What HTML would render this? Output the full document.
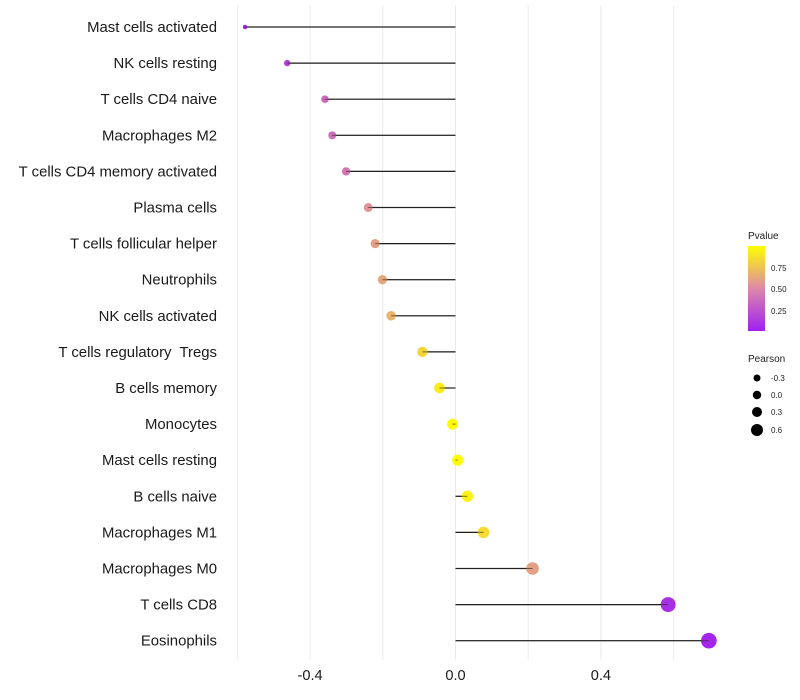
<!DOCTYPE html>
<html><head><meta charset="utf-8"><style>
body{margin:0;background:#fff;}
svg{display:block;font-family:"Liberation Sans",Arial,sans-serif;}
text{white-space:pre;}
</style></head><body>
<svg id="chart" width="800" height="700">
<defs><linearGradient id="pg" x1="0" y1="1" x2="0" y2="0">
<stop offset="0" stop-color="#a020f0"/><stop offset="0.5" stop-color="#dd88a8"/><stop offset="1" stop-color="#ffff00"/>
</linearGradient></defs>
<g id="grid"></g><g id="marks"></g><g id="ylab"></g><g id="xlab"></g>
<g>
<text x="748" y="239" font-size="10" fill="#222">Pvalue</text>
<rect x="748" y="246" width="17" height="85" fill="url(#pg)"/>
<text x="771" y="271" font-size="8" fill="#222">0.75</text>
<text x="771" y="292" font-size="8" fill="#222">0.50</text>
<text x="771" y="314" font-size="8" fill="#222">0.25</text>
</g>
<g>
<text x="748" y="362" font-size="10" fill="#222">Pearson</text>
<circle cx="757" cy="378" r="3.5" fill="#000"/>
<circle cx="757" cy="395" r="4.2" fill="#000"/>
<circle cx="757" cy="412" r="5" fill="#000"/>
<circle cx="757" cy="430" r="6" fill="#000"/>
<text x="771" y="381" font-size="8" fill="#222">-0.3</text>
<text x="771" y="398" font-size="8" fill="#222">0.0</text>
<text x="771" y="415" font-size="8" fill="#222">0.3</text>
<text x="771" y="433" font-size="8" fill="#222">0.6</text>
</g>
</svg>
<script>
const categories=["Mast cells activated","NK cells resting","T cells CD4 naive","Macrophages M2","T cells CD4 memory activated","Plasma cells","T cells follicular helper","Neutrophils","NK cells activated","T cells regulatory  Tregs","B cells memory","Monocytes","Mast cells resting","B cells naive","Macrophages M1","Macrophages M0","T cells CD8","Eosinophils"];
const pearson=[-0.579,-0.463,-0.359,-0.339,-0.301,-0.240,-0.221,-0.201,-0.177,-0.091,-0.044,-0.008,0.006,0.033,0.077,0.212,0.585,0.697];
const pvalue=[0.03,0.15,0.35,0.37,0.42,0.55,0.6,0.63,0.68,0.82,0.92,0.98,0.99,0.94,0.85,0.6,0.07,0.03];
const xTicks=[-0.4,0.0,0.4];
const xGrid=[-0.6,-0.4,-0.2,0,0.2,0.4,0.6];
const NS="http://www.w3.org/2000/svg";
const X=v=>455.5+v*363.5;
const Y=i=>27+i*36.1;
function mk(t,a,p){const e=document.createElementNS(NS,t);for(const k in a)e.setAttribute(k,a[k]);p.appendChild(e);return e;}
function lerp(a,b,t){return a.map((v,i)=>Math.round(v+(b[i]-v)*t));}
function col(p){const s=[[160,32,240],[221,136,168],[255,255,0]];const c=p<0.5?lerp(s[0],s[1],p/0.5):lerp(s[1],s[2],(p-0.5)/0.5);return`rgb(${c})`;}
const mn=Math.min(...pearson);
const R=v=>Math.sqrt(5+44*(v-mn));
const g=document.getElementById('grid'),m=document.getElementById('marks'),yl=document.getElementById('ylab'),xl=document.getElementById('xlab');
xGrid.forEach(v=>{const l=mk('line',{x1:X(v),x2:X(v),y1:5,y2:660,stroke:'#ebebeb','stroke-width':1},g);

});
categories.forEach((c,i)=>{
const y=Y(i);
const t=mk('text',{x:217,y:y+5,'text-anchor':'end','font-size':14.9,fill:'#1a1a1a'},yl);t.textContent=c;


const l=mk('line',{x1:X(0),x2:X(pearson[i]),y1:y,y2:y,stroke:'#222','stroke-width':1.2},m);


const p=mk('circle',{cx:X(pearson[i]),cy:y,r:R(pearson[i]),fill:col(pvalue[i])},m);


const l2=mk('line',{x1:X(0),x2:X(pearson[i]),y1:y,y2:y,stroke:'#222','stroke-width':1,'stroke-opacity':0.6},m);


});
xTicks.forEach(v=>{const t=mk('text',{x:X(v),y:680,'text-anchor':'middle','font-size':14.6,fill:'#1a1a1a'},xl);t.textContent=v.toFixed(1);

});
</script>
</body></html>
